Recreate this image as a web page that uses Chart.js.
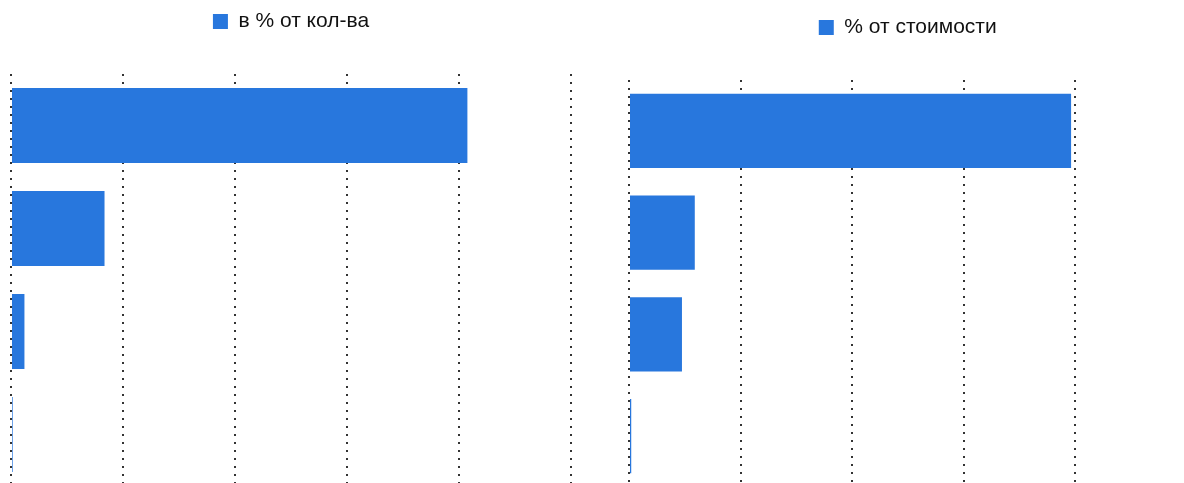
<!DOCTYPE html>
<html>
<head>
<meta charset="utf-8">
<script src="https://cdn.jsdelivr.net/npm/chart.js@4/dist/chart.umd.min.js"></script>
<style>
  html, body { margin: 0; padding: 0; background: #fff; overflow: hidden; width: 1184px; height: 483px; }
  .box { position: absolute; }
  #boxKol { left: 0; top: 0; width: 590px; height: 500px; }
  #boxStoim { left: 600px; top: 0; width: 620px; height: 500px; }
</style>
</head>
<body>
<div class="box" id="boxKol"><canvas id="graficoKol"></canvas></div>
<div class="box" id="boxStoim"><canvas id="graficoStoim"></canvas></div>
<script>
// categorias (rotulos nao aparecem no grafico)
const categorias = ["Группа 1", "Группа 2", "Группа 3", "Группа 4"];

// valores
const pctQuantidade = [81.5, 16.7, 2.4, 0.3];
const pctCusto = [79.3, 11.8, 9.5, 0.4];

const escalaMin = 0;
const escalaMax = 100;
const escalaPasso = 20;

const corBarra = "#2877dd";

/* ============================
   PLUGIN: ESPACO ABAIXO DA LEGENDA
============================ */

const margemLegenda = {
    id: "margemLegenda",
    beforeInit(chart) {
        const fitOriginal = chart.legend.fit;
        chart.legend.fit = function () {
            fitOriginal.bind(chart.legend)();
            this.height += 32;
        };
    }
};

/* ============================
   FUNCAO GERAR GRAFICO
============================ */

function gerarGraficoBarra(idCanvas, label, valores, padding) {
    const ctx = document.getElementById(idCanvas).getContext("2d");

    new Chart(ctx, {
        type: "bar",
        data: {
            labels: categorias,
            datasets: [{
                label: label,
                data: valores,
                backgroundColor: corBarra,
                borderWidth: 0,
                barPercentage: 0.73,
                categoryPercentage: 1
            }]
        },
        options: {
            indexAxis: "y",
            responsive: true,
            maintainAspectRatio: false,
            animation: false,
            layout: { padding: padding },
            plugins: {
                legend: {
                    position: "top",
                    labels: {
                        boxWidth: 15,
                        boxHeight: 15,
                        color: "#111",
                        font: { family: "'Liberation Sans', Arial, sans-serif", size: 21 }
                    }
                },
                tooltip: { enabled: false }
            },
            scales: {
                x: {
                    min: escalaMin,
                    max: escalaMax,
                    ticks: { display: false, stepSize: escalaPasso },
                    grid: { drawTicks: false, color: "#333", lineWidth: 2 },
                    border: { display: false, dash: [2, 6] }
                },
                y: { display: false }
            }
        },
        plugins: [margemLegenda]
    });
}

gerarGraficoBarra("graficoKol", "в % от кол-ва", pctQuantidade,
    { left: 11, right: 19, top: 1, bottom: 14 });
gerarGraficoBarra("graficoStoim", "% от стоимости", pctCusto,
    { left: 29, right: 33.5, top: 7, bottom: 13 });
</script>
</body>
</html>
